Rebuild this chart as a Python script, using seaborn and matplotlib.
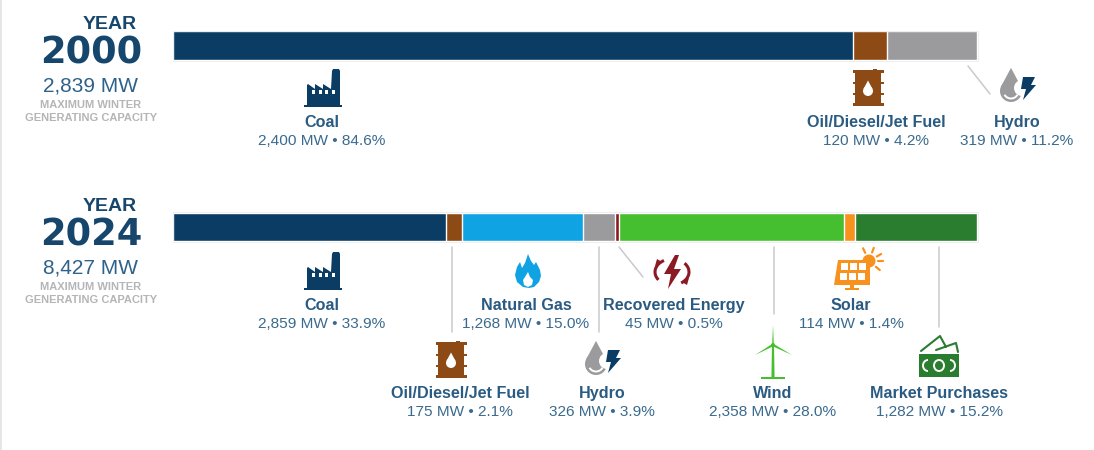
"""
Winter generating capacity mix, 2000 vs 2024
"""

import matplotlib

matplotlib.use("Agg")

import matplotlib.pyplot as plt
import numpy as np
import pandas as pd
import seaborn as sns
from matplotlib.patches import Circle, Ellipse, Arc, Polygon, Rectangle

years = ["2000", "2024"]
capacity = ["2,839 MW", "8,427 MW"]

sources_2000 = ["Coal", "Oil/Diesel/Jet Fuel", "Hydro"]
mw_2000 = [2400, 120, 319]
pct_2000 = [84.6, 4.2, 11.2]

sources_2024 = [
    "Coal",
    "Oil/Diesel/Jet Fuel",
    "Natural Gas",
    "Hydro",
    "Recovered Energy",
    "Wind",
    "Solar",
    "Market Purchases",
]
mw_2024 = [2859, 175, 1268, 326, 45, 2358, 114, 1282]
pct_2024 = [33.9, 2.1, 15.0, 3.9, 0.5, 28.0, 1.4, 15.2]

palette = {
    "Coal": "#0b3c63",
    "Oil/Diesel/Jet Fuel": "#8e4a14",
    "Natural Gas": "#10a3e3",
    "Hydro": "#9b9b9e",
    "Recovered Energy": "#8b1a22",
    "Wind": "#45bf30",
    "Solar": "#f7921e",
    "Market Purchases": "#2a7c2e",
}

NAVY = "#17466d"
BLUE_TXT = "#3a6a8e"
LABEL = "#2a5b82"
GREY_TXT = "#b4b5b7"

# label centre x, name baseline y for every source (pixels of the 1094x450 figure)
label_pos_2000 = {"Coal": (322, 127), "Oil/Diesel/Jet Fuel": (876, 127), "Hydro": (1017, 127)}
label_pos_2024 = {
    "Coal": (322, 310),
    "Oil/Diesel/Jet Fuel": (460, 398),
    "Natural Gas": (526, 310),
    "Hydro": (602, 398),
    "Recovered Energy": (674, 310),
    "Wind": (773, 398),
    "Solar": (851, 310),
    "Market Purchases": (939, 398),
}


def stack_frame():
    rows = []
    for year, names, values in [(years[0], sources_2000, mw_2000), (years[1], sources_2024, mw_2024)]:
        share = np.cumsum(values) / np.sum(values) * 100
        for name, end in zip(names, share):
            rows.append({"year": year, "source": name, "end": end})
    return pd.DataFrame(rows)


def shape(ax, pts, color, ox, oy, z=3):
    pts = np.array(pts, dtype=float) + [ox, oy]
    ax.add_patch(Polygon(pts, closed=True, fc=color, ec="none", zorder=z))


def factory(ax, ox, oy):
    c = palette["Coal"]
    shape(
        ax,
        [(3, 36), (3, 16), (4, 15), (11, 20), (11, 15), (19, 20), (19, 15), (27, 20), (28, 2),
         (29, 0), (35, 0), (36, 2), (36, 36)],
        c, ox, oy,
    )
    ax.add_patch(Rectangle((ox, oy + 36), 38, 2, fc=c, ec="none", zorder=3))
    for dx in [8, 14.5, 21, 27.5]:
        ax.add_patch(Rectangle((ox + dx, oy + 21), 3.2, 4, fc="white", ec="none", zorder=4))


def droplet(ax, cx, cy, r, color, z=3):
    ax.add_patch(Circle((cx, cy), r, fc=color, ec="none", zorder=z))
    shape(ax, [(-r * 0.9, -r * 0.42), (0, -r * 2.1), (r * 0.9, -r * 0.42)], color, cx, cy, z=z)


def barrel(ax, cx, cy):
    c = palette["Oil/Diesel/Jet Fuel"]
    ax.add_patch(Rectangle((cx - 13, cy - 16), 26, 32, fc=c, ec="none", zorder=3))
    for dy in [-18, 15]:
        ax.add_patch(Rectangle((cx - 15.5, cy + dy), 31, 3, fc=c, ec="none", zorder=3))
    for dy in [-6, 5]:
        ax.add_patch(Rectangle((cx - 15.5, cy + dy), 31, 2, fc=c, ec="none", zorder=3))
    ax.add_patch(Rectangle((cx + 5, cy - 19.5), 4, 2, fc=c, ec="none", zorder=3))
    droplet(ax, cx, cy + 3, 5, "white", z=4)


def hydro(ax, cx, cy):
    # cx, cy is the middle of the droplet
    droplet(ax, cx, cy + 5, 11, palette["Hydro"])
    ax.add_patch(Arc((cx, cy + 5), 15, 15, theta1=30, theta2=150, color="white", lw=1.4, zorder=4))
    ax.add_patch(Circle((cx + 11, cy + 2), 8, fc="white", ec="none", zorder=4))
    shape(
        ax,
        [(12, -9), (24, -9), (20, -1), (25, -1), (12, 14), (15, 3), (10, 3)],
        palette["Coal"], cx, cy, z=5,
    )


def flame(ax, cx, cy):
    c = palette["Natural Gas"]
    shape(
        ax,
        [(0, -17), (3, -10), (6, -6), (8, -9), (12, -1), (13, 5), (11, 11), (6, 16), (1, 17), (-5, 16),
         (-11, 11), (-13, 4), (-11, -4), (-8, -9), (-6, -3), (-3, -8)],
        c, cx, cy,
    )
    shape(ax, [(0, 1), (2, 6), (5, 9), (4, 14), (0, 16), (-4, 14), (-5, 9), (-3, 6)], "white", cx, cy, z=4)


def recovered(ax, cx, cy):
    c = palette["Recovered Energy"]
    shape(ax, [(3, -17), (-8, 2), (-1, 2), (-4, 17), (9, -3), (2, -3), (7, -17)], c, cx, cy)
    ax.add_patch(Arc((cx, cy), 34, 26, theta1=150, theta2=235, color=c, lw=2.2, zorder=3))
    ax.add_patch(Arc((cx, cy), 34, 26, theta1=-35, theta2=50, color=c, lw=2.2, zorder=3))
    shape(ax, [(-17, -6), (-10, -10), (-15, -13)], c, cx, cy)
    shape(ax, [(17, 6), (10, 10), (15, 13)], c, cx, cy)


def solar(ax, ox, oy):
    c = palette["Solar"]
    ax.add_patch(Circle((ox + 35, oy + 1), 6.5, fc=c, ec="none", zorder=2))
    shape(ax, [(4, 0), (36, 0), (36, 25), (0, 25)], c, ox, oy)
    for i in range(3):
        for j in range(2):
            ax.add_patch(
                Rectangle((ox + 6.5 + i * 9.3 - j, oy + 3 + j * 9.5), 7.2, 7.2, fc="white", ec="none", zorder=4)
            )
    ax.add_patch(Rectangle((ox + 16, oy + 25), 4, 4, fc=c, ec="none", zorder=3))
    ax.add_patch(Rectangle((ox + 11, oy + 28), 14, 2, fc=c, ec="none", zorder=3))
    for angle in [-115, -70, -30, 0, 40]:
        a = np.deg2rad(angle)
        ax.plot(
            [ox + 35 + 9 * np.cos(a), ox + 35 + 14 * np.cos(a)],
            [oy + 1 + 9 * np.sin(a), oy + 1 + 14 * np.sin(a)],
            color=c, lw=1.6, zorder=3,
        )


def turbine(ax, cx, cy):
    c = palette["Wind"]
    shape(ax, [(-1, 0), (1, 0), (1.6, 33), (-1.6, 33)], c, cx, cy)
    shape(ax, [(-0.8, -1), (0, -20), (0.8, -1)], c, cx, cy)
    shape(ax, [(-0.8, -1), (-18, 10), (0.8, 1)], c, cx, cy)
    shape(ax, [(0.8, -1), (19, 10), (-0.8, 1)], c, cx, cy)
    ax.add_patch(Circle((cx, cy), 2, fc=c, ec="none", zorder=3))
    ax.add_patch(Rectangle((cx - 12, cy + 32), 24, 1.8, fc=c, ec="none", zorder=3))


def money(ax, ox, oy):
    c = palette["Market Purchases"]
    ax.add_patch(Rectangle((ox, oy), 40, 23, fc=c, ec="none", zorder=3))
    ax.plot([ox + 2, ox + 21, ox + 27], [oy - 3, oy - 18, oy - 7], color=c, lw=1.5, zorder=3)
    ax.plot([ox + 17, ox + 37, ox + 39], [oy - 4, oy - 11, oy - 2], color=c, lw=1.5, zorder=3)
    ax.add_patch(Ellipse((ox + 20, oy + 11.5), 10, 11, fc="none", ec="white", lw=1.4, zorder=4))
    ax.add_patch(Arc((ox + 9, oy + 11.5), 10, 11, theta1=90, theta2=270, color="white", lw=1.4, zorder=4))
    ax.add_patch(Arc((ox + 31, oy + 11.5), 10, 11, theta1=-90, theta2=90, color="white", lw=1.4, zorder=4))


def draw_labels(ax, names, values, pcts, pos):
    for name, mw, pct in zip(names, values, pcts):
        x, y = pos[name]
        ax.text(x, y, name, ha="center", va="baseline", fontsize=11.6, fontweight="bold", color=LABEL)
        ax.text(x, y + 18, f"{mw:,} MW \u2022 {pct:.1f}%", ha="center", va="baseline", fontsize=11.1, color=BLUE_TXT)


def draw_year(ax, i, y0):
    # y0 is the baseline of the YEAR line
    ax.text(137, y0, "YEAR", ha="right", va="baseline", fontsize=14, fontweight="bold", color=NAVY)
    ax.text(142, y0 + 35, years[i], ha="right", va="baseline", fontsize=26.5, fontweight="bold",
            family="DejaVu Sans", color=NAVY)
    ax.text(90.5, y0 + 63, capacity[i], ha="center", va="baseline", fontsize=15, color="#2f628a")
    ax.text(91, y0 + 79, "MAXIMUM WINTER", ha="center", va="baseline", fontsize=8, fontweight="bold", color=GREY_TXT)
    ax.text(91, y0 + 92, "GENERATING CAPACITY", ha="center", va="baseline", fontsize=8, fontweight="bold", color=GREY_TXT)


sns.set_theme(style="white")
plt.rcParams["font.family"] = ["Liberation Sans", "DejaVu Sans"]

W, H = 1094, 450
fig = plt.figure(figsize=(W / 100, H / 100), dpi=100)

# the bars get their own axes, x is the share of the year's total
ax = fig.add_axes([173 / W, 0, (977 - 173) / W, 1])
sns.barplot(
    data=stack_frame(),
    y="year",
    x="end",
    hue="source",
    order=years,
    hue_order=sources_2024[::-1],
    palette=palette,
    saturation=1,
    dodge=False,
    width=0.156,
    edgecolor="white",
    linewidth=1.0,
    legend=False,
    ax=ax,
    orient="y",
)
ax.set_xlim(0, 100)
ax.set_ylim((H - 45.5) / 181.5, -45.5 / 181.5)
ax.axis("off")

# everything else is placed in figure pixels
ov = fig.add_axes([0, 0, 1, 1], facecolor="none")
ov.set_xlim(0, W)
ov.set_ylim(H, 0)
ov.axis("off")

ov.add_patch(Rectangle((0, 0), 2, H, fc="#e6e6e6", ec="none"))
for y0 in [31, 212]:
    ov.add_patch(Rectangle((172.5, y0), 805, 29.5, fc="none", ec="#eceef0", lw=0.7))

leaders = [
    ((968, 990), (66, 94)),
    ((452, 452), (247, 332)),
    ((598.5, 598.5), (247, 332)),
    ((619, 643), (247, 277)),
    ((773.5, 773.5), (247, 314)),
    ((939, 939), (247, 327)),
]
for xs, ys in leaders:
    ov.plot(xs, ys, color="#c9cacc", lw=1.1, zorder=1)

draw_year(ov, 0, 29)
draw_year(ov, 1, 211)
draw_labels(ov, sources_2000, mw_2000, pct_2000, label_pos_2000)
draw_labels(ov, sources_2024, mw_2024, pct_2024, label_pos_2024)

factory(ov, 304, 69)
barrel(ov, 868, 88)
hydro(ov, 1011, 86)
factory(ov, 304, 252)
flame(ov, 528, 271)
recovered(ov, 672, 272)
solar(ov, 834, 260)
barrel(ov, 451, 360)
hydro(ov, 596, 359)
turbine(ov, 773, 345)
money(ov, 919, 354)

fig.savefig("out.png", dpi=100)
